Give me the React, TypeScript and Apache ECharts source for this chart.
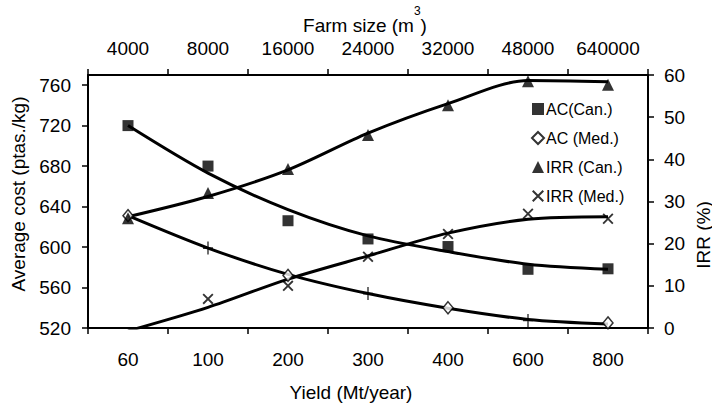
import React, { useEffect, useRef } from "react";
import * as echarts from "echarts";

const yields = ["60", "100", "200", "300", "400", "600", "800"];
const farmSizes = ["4000", "8000", "16000", "24000", "32000", "48000", "640000"];
const leftTicks = [520, 560, 600, 640, 680, 720, 760];

// Observed points
const acCan = [720, 680, 626, 608, 600.5, 578, 578.5];
const acMed = [631, 599, 572, 554, 540, 527.5, 525];
const acMedMarks = ["d", "+", "d", "+", "d", "+", "d"];
const irrCan = [26, 32, 37.7, 45.8, 52.8, 58.5, 57.7];
const irrMed = [null, 6.9, 10, 16.9, 22.3, 27.1, 25.9];

// Fitted trend curves
const acCanTrend = [720, 673, 637, 611, 595.5, 583, 578];
const acMedTrend = [631, 599, 573, 554, 539.5, 528.5, 524];
const irrCanTrend = [26.4, 31.2, 37.5, 46.2, 53.2, 58.7, 58.4];
const irrMedTrend = [-0.7, 4.9, 11.6, 17.1, 22.5, 25.8, 26.4];

const FONT = "'Liberation Sans', Arial, sans-serif";
const X_PATH = "path://M0,1.2L1.2,0L10,8.8L8.8,10ZM8.8,0L10,1.2L1.2,10L0,8.8Z";
const PLUS_PATH = "path://M4.3,0H5.7V10H4.3ZM0,4.3H10V5.7H0Z";

export default function App() {
  const ref = useRef<HTMLDivElement>(null);
  useEffect(() => {
    document.body.style.margin = "0";
    if (!ref.current) return;
    const chart = echarts.init(ref.current, null, { renderer: "svg" });
    const axisLine = { show: true, lineStyle: { color: "#000", width: 2 } };
    const axisTick = { show: true, length: 6, lineStyle: { color: "#000", width: 1.5 } };
    const labelStyle = { color: "#000", fontSize: 19, fontFamily: FONT };
    const trend = (data: (number | null)[], yAxisIndex: number) => ({
      type: "line",
      data,
      yAxisIndex,
      smooth: 0.3,
      symbol: "none",
      clip: true,
      z: 2,
      lineStyle: { color: "#000", width: 3 },
      silent: true,
      legendHoverLink: false,
    });
    chart.setOption({
      animation: false,
      backgroundColor: "#fff",
      grid: { left: 88, right: 64, top: 75, bottom: 76, containLabel: false },
      legend: {
        orient: "vertical",
        left: 526,
        top: 96,
        itemWidth: 12,
        itemHeight: 12,
        itemGap: 13,
        textStyle: { color: "#000", fontSize: 16, fontFamily: FONT, padding: [0, 0, 0, -3] },
        data: ["AC(Can.)", "AC (Med.)", "IRR (Can.)", "IRR (Med.)"],
      },
      xAxis: [
        {
          type: "category",
          position: "bottom",
          data: yields,
          boundaryGap: true,
          axisLine,
          axisTick: { ...axisTick, interval: 0 },
          axisLabel: { ...labelStyle, margin: 22, interval: 0 },
          splitLine: { show: false },
        },
        {
          type: "category",
          position: "top",
          data: farmSizes,
          boundaryGap: true,
          axisLine,
          axisTick: { ...axisTick, interval: 0 },
          axisLabel: { ...labelStyle, margin: 17, interval: 0 },
          splitLine: { show: false },
        },
      ],
      yAxis: [
        {
          type: "value",
          position: "left",
          min: 520,
          max: 770,
          interval: 40,
          axisLine,
          axisTick: { ...axisTick, customValues: leftTicks },
          axisLabel: { ...labelStyle, margin: 17, customValues: leftTicks },
          splitLine: { show: false },
        },
        {
          type: "value",
          position: "right",
          min: 0,
          max: 60,
          interval: 10,
          axisLine,
          axisTick,
          axisLabel: { ...labelStyle, margin: 16 },
          splitLine: { show: false },
        },
      ],
      graphic: [
        {
          type: "text",
          x: 18,
          y: 194,
          rotation: Math.PI / 2,
          style: {
            text: "Average cost (ptas./kg)",
            fill: "#000",
            font: `19px ${FONT}`,
            align: "center",
            verticalAlign: "middle",
          },
        },
        {
          type: "text",
          x: 703,
          y: 235,
          rotation: Math.PI / 2,
          style: {
            text: "IRR (%)",
            fill: "#000",
            font: `19px ${FONT}`,
            align: "center",
            verticalAlign: "middle",
          },
        },
        {
          type: "text",
          x: 351,
          y: 392,
          style: {
            text: "Yield (Mt/year)",
            fill: "#000",
            font: `19px ${FONT}`,
            align: "center",
            verticalAlign: "middle",
          },
        },
        {
          type: "text",
          x: 365,
          y: 25,
          style: {
            text: "{a|Farm size (m}{s|3}{a|)}",
            fill: "#000",
            align: "center",
            verticalAlign: "middle",
            rich: {
              a: { fontSize: 19, fontFamily: FONT, lineHeight: 40, verticalAlign: "middle", fill: "#000" },
              s: { fontSize: 12, fontFamily: FONT, lineHeight: 12, verticalAlign: "top", fill: "#000" },
            },
          },
        },
      ],
      series: [
        trend(acCanTrend, 0),
        trend(acMedTrend, 0),
        trend(irrCanTrend, 1),
        trend(irrMedTrend, 1),
        {
          name: "AC(Can.)",
          type: "scatter",
          yAxisIndex: 0,
          data: acCan,
          symbol: "rect",
          symbolSize: 11,
          z: 3,
          itemStyle: { color: "#000" },
        },
        {
          name: "AC (Med.)",
          type: "scatter",
          yAxisIndex: 0,
          symbol: "diamond",
          symbolSize: [10, 12],
          z: 3,
          itemStyle: { color: "#fff", borderColor: "#000", borderWidth: 1.5 },
          data: acMed.map((v, i) =>
            acMedMarks[i] === "+"
              ? { value: v, symbol: PLUS_PATH, symbolSize: [10, 13], itemStyle: { color: "#000", borderWidth: 0 } }
              : { value: v }
          ),
        },
        {
          name: "IRR (Can.)",
          type: "scatter",
          yAxisIndex: 1,
          data: irrCan,
          symbol: "triangle",
          symbolSize: [12, 12],
          z: 3,
          itemStyle: { color: "#000" },
        },
        {
          name: "IRR (Med.)",
          type: "scatter",
          yAxisIndex: 1,
          data: irrMed,
          symbol: X_PATH,
          symbolSize: 11,
          z: 3,
          itemStyle: { color: "#000" },
        },
      ],
    });
    return () => chart.dispose();
  }, []);
  return <div ref={ref} style={{ width: 712, height: 404 }} />;
}
